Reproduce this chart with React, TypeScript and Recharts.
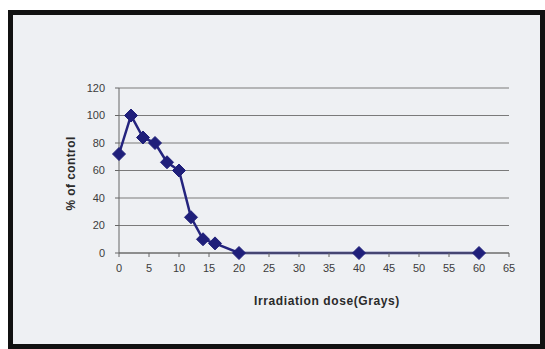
import React from 'react';
import { LineChart, Line, XAxis, YAxis, CartesianGrid } from 'recharts';

const doses = [0, 2, 4, 6, 8, 10, 12, 14, 16, 20, 40, 60];
const percentOfControl = [72, 100, 84, 80, 66, 60, 26, 10, 7, 0, 0, 0];
const xTicks = [0, 5, 10, 15, 20, 25, 30, 35, 40, 45, 50, 55, 60, 65];
const yTicks = [0, 20, 40, 60, 80, 100, 120];

const data = doses.map((d, i) => ({ dose: d, pct: percentOfControl[i] }));

// diamond marker
const Diamond = (props: any) => {
  const { cx, cy } = props;
  if (cx == null || cy == null) return null;
  const r = 6.5;
  return (
    <polygon
      points={`${cx},${cy - r} ${cx + r},${cy} ${cx},${cy + r} ${cx - r},${cy}`}
      fill="#1f1f7a"
      stroke="#1f1f7a"
    />
  );
};

const tickStyle = { fill: '#3c3c3c', fontSize: 11, fontFamily: 'Arial, "Liberation Sans", sans-serif' };

export default function App() {
  return (
    <div style={{ position: 'fixed', left: 0, top: 0, width: 545, height: 349, background: '#fff' }}>
      <div
        style={{
          position: 'absolute',
          left: 8,
          top: 10,
          width: 527,
          height: 329,
          border: '5px solid #111',
          background: '#eef0f3',
        }}
      />
      <div style={{ position: 'absolute', left: 0, top: 0 }}>
        <LineChart width={545} height={349} data={data} margin={{ top: 88, right: 36, left: 79, bottom: 66 }}>
          <CartesianGrid vertical={false} stroke="#7a7a7a" strokeWidth={1.2} />
          <XAxis
            dataKey="dose"
            type="number"
            domain={[0, 65]}
            ticks={xTicks}
            interval={0}
            height={30}
            tick={tickStyle}
            tickSize={4}
            tickMargin={7}
            axisLine={{ stroke: '#666' }}
            tickLine={{ stroke: '#666' }}
            label={{
              value: 'Irradiation dose(Grays)',
              position: 'insideBottom',
              offset: -22,
              dx: 13,
              style: { fill: '#2a2a2a', fontSize: 12, fontWeight: 'bold', fontFamily: 'Arial, "Liberation Sans", sans-serif', letterSpacing: 0.6 },
            }}
          />
          <YAxis
            type="number"
            domain={[0, 120]}
            ticks={yTicks}
            interval={0}
            width={40}
            tick={tickStyle}
            tickSize={4}
            tickMargin={10}
            axisLine={{ stroke: '#666' }}
            tickLine={{ stroke: '#666' }}
            label={{
              value: '% of control',
              angle: -90,
              position: 'insideLeft',
              offset: -8,
              dy: 40,
              style: { fill: '#2a2a2a', fontSize: 12, fontWeight: 'bold', fontFamily: 'Arial, "Liberation Sans", sans-serif', letterSpacing: 0.4 },
            }}
          />
          <Line
            type="linear"
            dataKey="pct"
            stroke="#24247e"
            strokeWidth={2.5}
            dot={<Diamond />}
            activeDot={false}
            isAnimationActive={false}
          />
        </LineChart>
      </div>
    </div>
  );
}
